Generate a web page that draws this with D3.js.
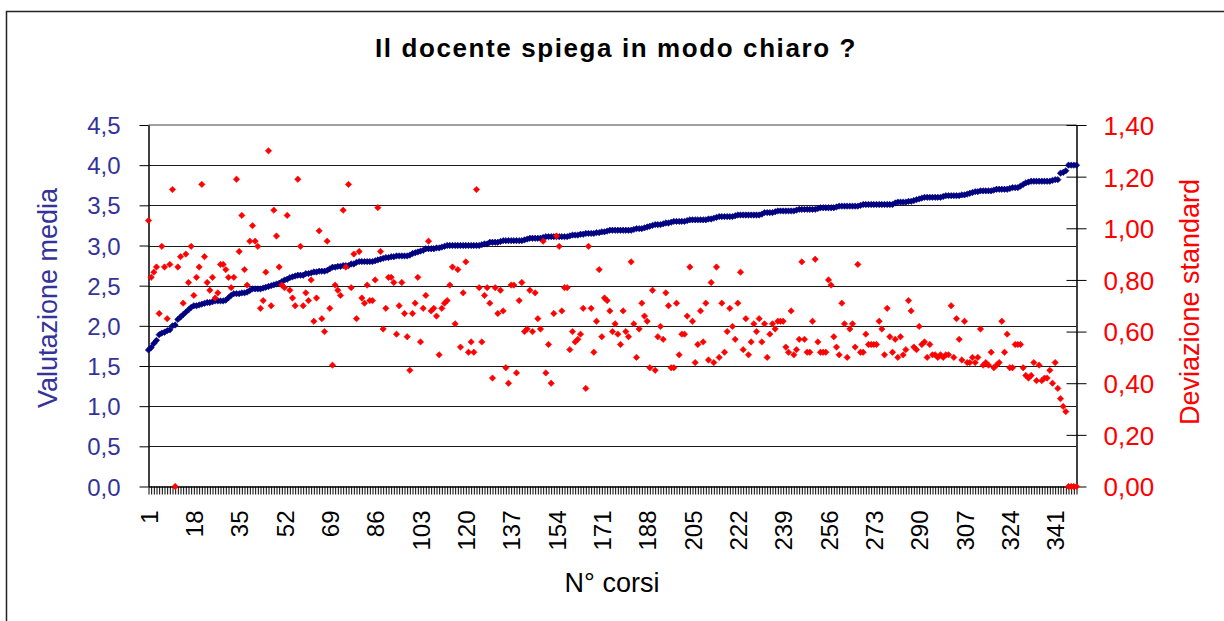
<!DOCTYPE html>
<html>
<head>
<meta charset="utf-8">
<script src="https://cdn.jsdelivr.net/npm/d3@7"></script>
<style>
  html, body { margin: 0; padding: 0; background: #fff; }
  svg { display: block; font-family: "Liberation Sans", Arial, sans-serif; }
</style>
</head>
<body>
<svg id="chart" width="1224" height="621"></svg>
<script>
// ---------- DATA ----------
const categories = d3.range(1, 350); // N° corsi 1..349

const meanValues = [
  1.70,1.73,1.78,1.82,1.89,1.91,1.92,1.94,1.95,2.00,
  2.01,2.08,2.11,2.14,2.17,2.20,2.23,2.25,2.25,2.26,
  2.27,2.28,2.29,2.29,2.30,2.31,2.31,2.31,2.31,2.32,
  2.35,2.38,2.40,2.40,2.40,2.41,2.41,2.42,2.44,2.46,
  2.46,2.46,2.46,2.47,2.48,2.49,2.50,2.51,2.52,2.53,
  2.55,2.57,2.58,2.60,2.61,2.62,2.63,2.63,2.63,2.65,
  2.65,2.66,2.67,2.67,2.68,2.68,2.68,2.69,2.71,2.73,
  2.73,2.74,2.74,2.75,2.75,2.75,2.77,2.77,2.79,2.80,
  2.80,2.80,2.80,2.80,2.80,2.81,2.82,2.83,2.84,2.85,
  2.85,2.86,2.86,2.87,2.87,2.87,2.87,2.87,2.88,2.90,
  2.91,2.92,2.93,2.94,2.96,2.96,2.96,2.96,2.97,2.97,
  2.98,2.99,3.00,3.00,3.00,3.00,3.00,3.00,3.00,3.00,
  3.00,3.00,3.00,3.00,3.00,3.01,3.02,3.02,3.04,3.04,
  3.04,3.04,3.05,3.06,3.06,3.06,3.06,3.06,3.06,3.06,
  3.06,3.07,3.08,3.09,3.09,3.09,3.09,3.09,3.10,3.11,
  3.11,3.11,3.11,3.11,3.11,3.11,3.11,3.11,3.12,3.13,
  3.13,3.13,3.14,3.14,3.15,3.15,3.15,3.15,3.16,3.16,
  3.17,3.17,3.18,3.19,3.19,3.19,3.19,3.19,3.19,3.19,
  3.19,3.19,3.20,3.21,3.21,3.21,3.22,3.23,3.24,3.25,
  3.26,3.26,3.26,3.27,3.28,3.28,3.29,3.30,3.30,3.30,
  3.30,3.30,3.31,3.32,3.32,3.32,3.32,3.32,3.32,3.32,
  3.33,3.33,3.34,3.35,3.36,3.36,3.36,3.36,3.36,3.36,
  3.37,3.38,3.38,3.38,3.38,3.38,3.38,3.38,3.38,3.38,
  3.39,3.41,3.41,3.41,3.41,3.42,3.43,3.43,3.43,3.43,
  3.43,3.43,3.43,3.44,3.45,3.45,3.45,3.45,3.45,3.45,
  3.45,3.46,3.47,3.47,3.47,3.47,3.47,3.47,3.48,3.49,
  3.49,3.49,3.49,3.49,3.49,3.49,3.49,3.50,3.51,3.51,
  3.51,3.51,3.51,3.51,3.51,3.51,3.51,3.51,3.51,3.51,
  3.53,3.54,3.54,3.54,3.54,3.55,3.55,3.56,3.57,3.58,
  3.59,3.60,3.60,3.60,3.60,3.60,3.60,3.60,3.61,3.62,
  3.62,3.62,3.62,3.62,3.62,3.63,3.63,3.64,3.65,3.66,
  3.67,3.67,3.68,3.68,3.68,3.68,3.68,3.69,3.70,3.70,
  3.70,3.70,3.70,3.71,3.72,3.72,3.72,3.74,3.76,3.78,
  3.79,3.80,3.80,3.80,3.80,3.80,3.80,3.80,3.80,3.81,
  3.82,3.82,3.90,3.91,3.93,4.00,4.00,4.00,4.00
];

const sdValues = [
  1.03,0.81,0.83,0.85,0.67,0.93,0.85,0.65,0.86,1.15,
  0.00,0.85,0.89,0.71,0.90,0.79,0.93,0.74,0.81,0.85,
  1.17,0.89,0.79,0.76,0.81,0.73,0.75,0.86,0.86,0.84,
  0.81,0.77,0.81,1.19,0.91,1.05,0.84,0.78,0.95,1.01,
  0.95,0.93,0.69,0.72,0.83,1.30,0.70,1.07,0.97,0.85,
  0.78,0.77,1.05,0.76,0.73,0.70,1.19,0.93,0.70,0.75,
  0.72,0.80,0.64,0.73,0.99,0.65,0.60,0.95,0.69,0.47,
  0.78,0.76,0.74,1.07,0.85,1.17,0.77,0.90,0.65,0.91,
  0.73,0.71,0.78,0.72,0.72,0.80,1.08,0.91,0.61,0.69,
  0.81,0.81,0.79,0.59,0.70,0.79,0.67,0.58,0.45,0.67,
  0.71,0.81,0.56,0.69,0.74,0.95,0.68,0.69,0.66,0.51,
  0.69,0.71,0.72,0.78,0.85,0.63,0.84,0.54,0.75,0.87,
  0.52,0.56,0.52,1.15,0.77,0.56,0.74,0.77,0.71,0.42,
  0.77,0.67,0.76,0.68,0.46,0.40,0.78,0.78,0.44,0.72,
  0.79,0.60,0.61,0.76,0.60,0.75,0.65,0.61,0.95,0.44,
  0.55,0.40,0.67,0.97,0.93,0.68,0.77,0.77,0.53,0.60,
  0.56,0.57,0.59,0.69,0.38,0.93,0.69,0.52,0.64,0.84,
  0.58,0.73,0.72,0.68,0.60,0.63,0.59,0.55,0.68,0.60,
  0.58,0.87,0.63,0.50,0.61,0.71,0.66,0.64,0.46,0.76,
  0.45,0.58,0.62,0.57,0.75,0.70,0.46,0.46,0.71,0.51,
  0.59,0.59,0.66,0.85,0.64,0.48,0.55,0.68,0.56,0.71,
  0.49,0.79,0.48,0.85,0.50,0.71,0.52,0.60,0.69,0.62,
  0.57,0.71,0.83,0.53,0.65,0.51,0.56,0.63,0.60,0.65,
  0.56,0.63,0.50,0.59,0.63,0.61,0.64,0.64,0.64,0.54,
  0.52,0.68,0.51,0.53,0.57,0.87,0.57,0.52,0.52,0.64,
  0.88,0.56,0.52,0.52,0.52,0.80,0.78,0.58,0.54,0.51,
  0.71,0.63,0.50,0.61,0.63,0.54,0.86,0.52,0.52,0.59,
  0.55,0.55,0.55,0.55,0.64,0.61,0.51,0.69,0.58,0.52,
  0.57,0.50,0.58,0.51,0.53,0.72,0.68,0.54,0.53,0.62,
  0.55,0.56,0.50,0.55,0.51,0.51,0.50,0.51,0.50,0.51,
  0.51,0.70,0.50,0.65,0.57,0.49,0.64,0.48,0.48,0.50,
  0.48,0.50,0.61,0.47,0.48,0.47,0.52,0.46,0.47,0.48,
  0.64,0.52,0.59,0.46,0.46,0.55,0.55,0.55,0.46,0.43,
  0.42,0.43,0.48,0.41,0.47,0.41,0.42,0.42,0.45,0.40,
  0.48,0.38,0.34,0.31,0.29,0.00,0.00,0.00,0.00
];

const xTickLabels = ["1","18","35","52","69","86","103","120","137","154","171",
  "188","205","222","239","256","273","290","307","324","341"];
const leftTicks = [0, 0.5, 1, 1.5, 2, 2.5, 3, 3.5, 4, 4.5];
const rightTicks = [0, 0.2, 0.4, 0.6, 0.8, 1.0, 1.2, 1.4];

const titleText = "Il docente spiega in modo chiaro ?";
const leftTitle = "Valutazione media";
const rightTitle = "Deviazione standard";
const xTitle = "N° corsi";

// ---------- LAYOUT ----------
const plot = { left: 148.5, right: 1076.5, top: 125, bottom: 486.5 };
const blueText = "#333399";
const redText = "#ff0000";

const svg = d3.select("#chart");

// outer frame
svg.append("rect")
  .attr("x", 6.5).attr("y", 11.5)
  .attr("width", 1240).attr("height", 700)
  .attr("fill", "#fff").attr("stroke", "#222").attr("stroke-width", 1.5);

const x = d3.scalePoint().domain(categories).range([plot.left, plot.right]).padding(0);
const yL = d3.scaleLinear().domain([0, 4.5]).range([plot.bottom, plot.top]);
const yR = d3.scaleLinear().domain([0, 1.4]).range([plot.bottom, plot.top]);

const fmtL = d => d3.format(".1f")(d).replace(".", ",");
const fmtR = d => d3.format(".2f")(d).replace(".", ",");

// gridlines
svg.append("g").selectAll("line")
  .data(leftTicks.filter(d => d > 0 && d < 4.5))
  .join("line")
  .attr("x1", plot.left).attr("x2", plot.right)
  .attr("y1", d => Math.round(yL(d)) + 0.5).attr("y2", d => Math.round(yL(d)) + 0.5)
  .attr("stroke", "#1a1a1a").attr("stroke-width", 1);

// plot area top border
svg.append("line")
  .attr("x1", plot.left).attr("x2", plot.right)
  .attr("y1", plot.top).attr("y2", plot.top)
  .attr("stroke", "#808080").attr("stroke-width", 1.5);

// left axis
const gL = svg.append("g").attr("transform", `translate(${plot.left},0)`)
  .call(d3.axisLeft(yL).tickValues(leftTicks).tickFormat(fmtL).tickSize(9).tickSizeOuter(0).tickPadding(19));
gL.select(".domain").attr("stroke", "#000").attr("stroke-width", 1.5);
gL.selectAll(".tick line").attr("stroke", "#000");
gL.selectAll(".tick text").attr("fill", blueText).attr("font-size", 24)
  .attr("font-family", "Liberation Sans, Arial, sans-serif").attr("dy", "0.36em");

// right axis
const gR = svg.append("g").attr("transform", `translate(${plot.right},0)`)
  .call(d3.axisRight(yR).tickValues(rightTicks).tickFormat(fmtR).tickSize(10).tickSizeOuter(0).tickPadding(17));
gR.select(".domain").attr("stroke", "#000").attr("stroke-width", 1.5);
gR.selectAll(".tick line").attr("stroke", "#000").attr("x1", -10);
gR.selectAll(".tick text").attr("fill", redText).attr("font-size", 26)
  .attr("font-family", "Liberation Sans, Arial, sans-serif").attr("dy", "0.36em");

// bottom axis
const labelSet = new Set(xTickLabels);
const gB = svg.append("g").attr("transform", `translate(0,${plot.bottom})`)
  .call(d3.axisBottom(x).tickValues(categories).tickSize(8).tickSizeOuter(0)
    .tickFormat(d => labelSet.has(String(d)) ? String(d) : ""));
gB.select(".domain").attr("stroke", "#000").attr("stroke-width", 1.5);
gB.selectAll(".tick line").attr("stroke", "#000").attr("stroke-width", 1);
gB.selectAll(".tick text")
  .attr("fill", "#000").attr("font-size", 24)
  .attr("font-family", "Liberation Sans, Arial, sans-serif")
  .attr("text-anchor", "end")
  .attr("transform", "rotate(-90)")
  .attr("x", -24).attr("y", 0).attr("dy", "0.36em");

// markers: mean (navy) and sd (red)
const diamond = d3.symbol().type(d3.symbolSquare).size(20);
svg.append("g").selectAll("path")
  .data(meanValues)
  .join("path")
  .attr("d", diamond)
  .attr("transform", (d, i) => `translate(${x(categories[i])},${yL(d)}) rotate(45)`)
  .attr("fill", "#000080").attr("stroke", "#000080").attr("stroke-width", 0.6);

svg.append("g").selectAll("path")
  .data(sdValues)
  .join("path")
  .attr("d", diamond)
  .attr("transform", (d, i) => `translate(${x(categories[i])},${yR(d)}) rotate(45)`)
  .attr("fill", "#ff0000").attr("stroke", "#ff0000").attr("stroke-width", 0.6);

// titles
svg.append("text")
  .attr("x", 616).attr("y", 57)
  .attr("text-anchor", "middle")
  .attr("font-size", 26).attr("font-weight", "bold").attr("fill", "#000")
  .attr("letter-spacing", 1.6)
  .text(titleText);

svg.append("text")
  .attr("transform", "translate(57,298) rotate(-90)")
  .attr("text-anchor", "middle")
  .attr("font-size", 27).attr("fill", blueText)
  .text(leftTitle);

svg.append("text")
  .attr("transform", "translate(1199,302) rotate(-90)")
  .attr("text-anchor", "middle")
  .attr("font-size", 27).attr("fill", redText)
  .text(rightTitle);

svg.append("text")
  .attr("x", 612).attr("y", 592)
  .attr("text-anchor", "middle")
  .attr("font-size", 27).attr("fill", "#000")
  .text(xTitle);
</script>
</body>
</html>
